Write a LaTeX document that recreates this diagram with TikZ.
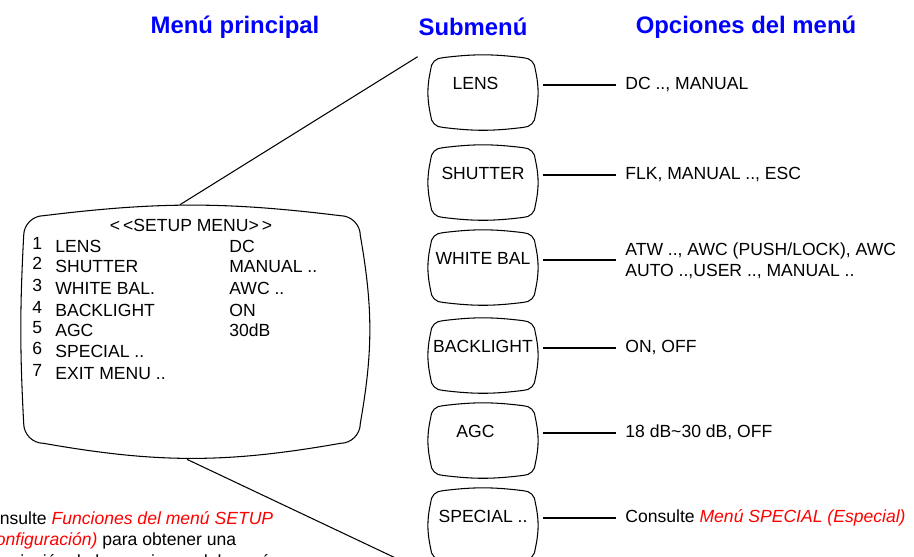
\documentclass[tikz,border=0pt]{standalone}
\usepackage{fontspec}
\setmainfont{Liberation Sans}

% outline of a screen round a node: node, corner, bends top/right/bottom/left
\newcommand{\screenframe}[6]{%
  \draw[frame] ([shift={(#2,0)}]#1.north west) to[bend left=#3] ([shift={(-#2,0)}]#1.north east)
    .. controls ([shift={(-0.45*#2,0)}]#1.north east) and ([shift={(0,0.45*#2)}]#1.north east) .. ([shift={(0,#2)}]#1.north east)
    to[bend left=#4] ([shift={(0,-#2)}]#1.south east)
    .. controls ([shift={(0,-0.45*#2)}]#1.south east) and ([shift={(-0.45*#2,0)}]#1.south east) .. ([shift={(-#2,0)}]#1.south east)
    to[bend left=#5] ([shift={(#2,0)}]#1.south west)
    .. controls ([shift={(0.45*#2,0)}]#1.south west) and ([shift={(0,-0.45*#2)}]#1.south west) .. ([shift={(0,-#2)}]#1.south west)
    to[bend left=#6] ([shift={(0,#2)}]#1.north west)
    .. controls ([shift={(0,0.45*#2)}]#1.north west) and ([shift={(0.45*#2,0)}]#1.north west) .. ([shift={(#2,0)}]#1.north west);
}

\begin{document}
\begin{tikzpicture}[x=0.02cm,y=-0.02cm]
		% Define styles for frames, texts and links
		\tikzset{
			frame/.style={line width=0.6pt},
			txt/.style={inner sep=0pt, font=\fontsize{10}{12.2}\selectfont},
			heading/.style={inner sep=0pt, font=\fontsize{13.6}{16}\selectfont\bfseries, text=blue},
			subscreen/.style={txt, minimum width=2.08cm, text height=0.632cm, text depth=0.748cm},
			optlink/.style={line width=1pt, shorten <=0.16cm, shorten >=0.18cm}
		}
		\useasboundingbox (0,0) rectangle (914,556);
		
		% Headings
		\node[heading] (hmain) at (235,27) {Menú principal};
		\node[heading] (hsub) at (473,27) {Submenú};
		\node[heading] (hopt) at (746,27) {Opciones del menú};
		
		% Main menu screen
		\node[minimum width=6.72cm, minimum height=4.54cm] (main) at (192,329.5) {};
		\screenframe{main}{20}{7}{10}{10}{3}
		\node[txt] (title) at (191,225) {<\,<SETUP MENU>\,>};
		\foreach \y/\num/\item in {248/1/LENS, 268/2/SHUTTER, 290/3/WHITE BAL., 312/4/BACKLIGHT, 332/5/AGC, 353/6/SPECIAL .., 375/7/EXIT MENU ..}{
			\node[txt, anchor=mid west] (num\num) at (32,\y-3) {\num};
			\node[txt, anchor=mid west] (item\num) at (55,\y) {\item};
		}
		\foreach \y/\num/\val in {248/1/DC, 268/2/MANUAL .., 290/3/AWC .., 312/4/ON, 332/5/30dB}
			\node[txt, anchor=mid west] (val\num) at (229,\y) {\val};
		
		% Submenu screens
		\node[subscreen, anchor=mid] (lens) at (483,85) {LENS\hspace*{0.3cm}};
		\node[subscreen, anchor=mid] (shutter) at (483,175) {SHUTTER};
		\node[subscreen, anchor=mid] (whitebal) at (483,260) {WHITE BAL};
		\node[subscreen, anchor=mid] (backlight) at (483,348) {BACKLIGHT};
		\node[subscreen, anchor=mid] (agc) at (483,433) {AGC\hspace*{0.3cm}};
		\node[subscreen, anchor=mid] (special) at (483,518) {SPECIAL ..};
		\foreach \s in {lens,shutter,whitebal,backlight,agc,special}{
			\screenframe{\s}{12}{7}{12}{7}{12}
		}
		
		% Menu options
		\node[txt, anchor=mid west] (optlens) at (625,85) {DC .., MANUAL};
		\node[txt, anchor=mid west] (optshutter) at (625,175) {FLK, MANUAL .., ESC};
		\node[txt, anchor=west, align=left] (optwb) at (625,261) {ATW .., AWC (PUSH/LOCK), AWC\\AUTO ..,USER .., MANUAL ..};
		\node[txt, anchor=mid west] (optback) at (625,348) {ON, OFF};
		\node[txt, anchor=mid west] (optagc) at (625,433) {18 dB\textasciitilde30 dB, OFF};
		\node[txt, anchor=mid west] (optspecial) at (625,518) {Consulte {\itshape\color{red}Menú SPECIAL (Especial)}};
		
		% Links from submenus to options
		\foreach \s/\o in {lens/optlens, shutter/optshutter, whitebal/optwb, backlight/optback, agc/optagc, special/optspecial}
			\draw[optlink] (\s.mid east) -- (\s.mid east -| \o.west);
		
		% Links from main screen to submenus
		\draw[frame] ([shift={(-12,-11)}]main.north) -- ([shift={(-13,-1)}]lens.north west);
		\draw[frame] ([shift={(-5,16)}]main.south) -- ([shift={(-11,9)}]special.south west);
		
		% Note below the main screen
		\node[txt, anchor=north west, align=left] (note) at (-23,511) {Consulte {\itshape\color{red}Funciones del menú SETUP}\\{\itshape\color{red}(Configuración)} para obtener una\\descripción de las opciones del menú.};
	\end{tikzpicture}
\end{document}
